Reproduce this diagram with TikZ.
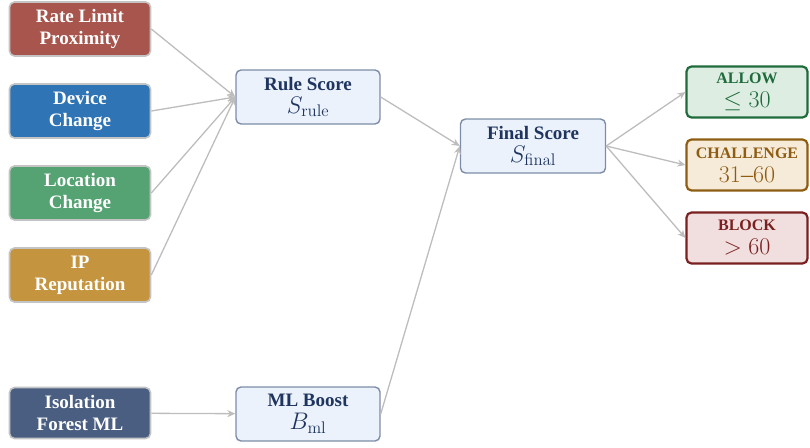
\RequirePackage{fix-cm}
\documentclass[tikz,border=0pt]{standalone}
\usepackage[no-math]{fontspec}
\setmainfont{Liberation Serif}
\usetikzlibrary{arrows.meta}
\definecolor{ratecol}{HTML}{A8554D}
\definecolor{devcol}{HTML}{2F74B5}
\definecolor{loccol}{HTML}{55A373}
\definecolor{ipcol}{HTML}{C5943F}
\definecolor{mlcol}{HTML}{4A5E82}
\definecolor{featline}{HTML}{C4C4C4}
\definecolor{scorefill}{HTML}{EBF2FB}
\definecolor{scoreline}{HTML}{7D8DA8}
\definecolor{scoretext}{HTML}{1F3560}
\definecolor{linkcol}{HTML}{BDBDBD}
\definecolor{allowcol}{HTML}{1F6B3B}
\definecolor{allowfill}{HTML}{DDEDE2}
\definecolor{challcol}{HTML}{8E5D12}
\definecolor{challfill}{HTML}{F6EAD8}
\definecolor{blockcol}{HTML}{7A2020}
\definecolor{blockfill}{HTML}{F1DFDF}
\tikzset{
  feat/.style={draw=featline, line width=1.6pt, rounded corners=5pt,
    minimum width=141pt, minimum height=54pt, align=center, text=white,
    font=\fontsize{19}{22}\selectfont\bfseries},
  score/.style={draw=scoreline, fill=scorefill, line width=1.4pt, rounded corners=5pt,
    minimum width=144pt, minimum height=54pt, align=center, text=scoretext,
    font=\fontsize{19}{23}\selectfont},
  verdict/.style={line width=2.2pt, rounded corners=5pt,
    minimum width=121pt, minimum height=51pt, align=center,
    font=\fontsize{19}{21}\selectfont},
  link/.style={draw=linkcol, line width=1.3pt, -{Stealth[length=8pt,width=7pt]}}
}
\newcommand{\vhead}[1]{{\fontsize{16}{17}\selectfont\bfseries #1}}
\newcommand{\mline}[1]{{\fontsize{24}{23}\selectfont #1}}
\begin{document}
\begin{tikzpicture}[x=1pt,y=-1pt]
      \useasboundingbox (0,0) rectangle (810,447);
      % feature boxes
      \node[feat, fill=ratecol] (rate) at (80,29) {Rate Limit\\Proximity};
      \node[feat, fill=devcol] (dev) at (80,111) {Device\\Change};
      \node[feat, fill=loccol] (loc) at (80,193) {Location\\Change};
      \node[feat, fill=ipcol] (ip) at (80,275) {IP\\Reputation};
      \node[feat, fill=mlcol, minimum height=51pt] (iso) at (80,413) {Isolation\\Forest ML};
      % scores
      \node[score] (rule) at (308,97) {\textbf{Rule Score}\\\mline{$S_{\mathrm{rule}}$}};
      \node[score] (boost) at (308,414) {\textbf{ML Boost}\\\mline{$B_{\mathrm{ml}}$}};
      \node[score, minimum width=145pt] (final) at (533,146) {\textbf{Final Score}\\\mline{$S_{\mathrm{final}}$}};
      % verdicts
      \node[verdict, draw=allowcol, fill=allowfill, text=allowcol] (allow) at (747,92) {\vhead{ALLOW}\\[3pt]\mline{$\leq 30$}};
      \node[verdict, draw=challcol, fill=challfill, text=challcol] (chall) at (747,165) {\vhead{CHALLENGE}\\[3pt]\mline{$31$–$60$}};
      \node[verdict, draw=blockcol, fill=blockfill, text=blockcol] (block) at (747,238) {\vhead{BLOCK}\\[3pt]\mline{$>60$}};
      \foreach \nm in {rate,dev,loc,ip}{
        \draw[link] (\nm.east) -- (rule.west);
      }
      \draw[link] (iso) -- (boost);
      \draw[link] (rule.east) -- (final.west);
      \draw[link] (boost.east) -- (final.west);
      \foreach \nm in {allow,chall,block}{
        \draw[link] (final.east) -- (\nm.west);
      }
    \end{tikzpicture}
\end{document}
